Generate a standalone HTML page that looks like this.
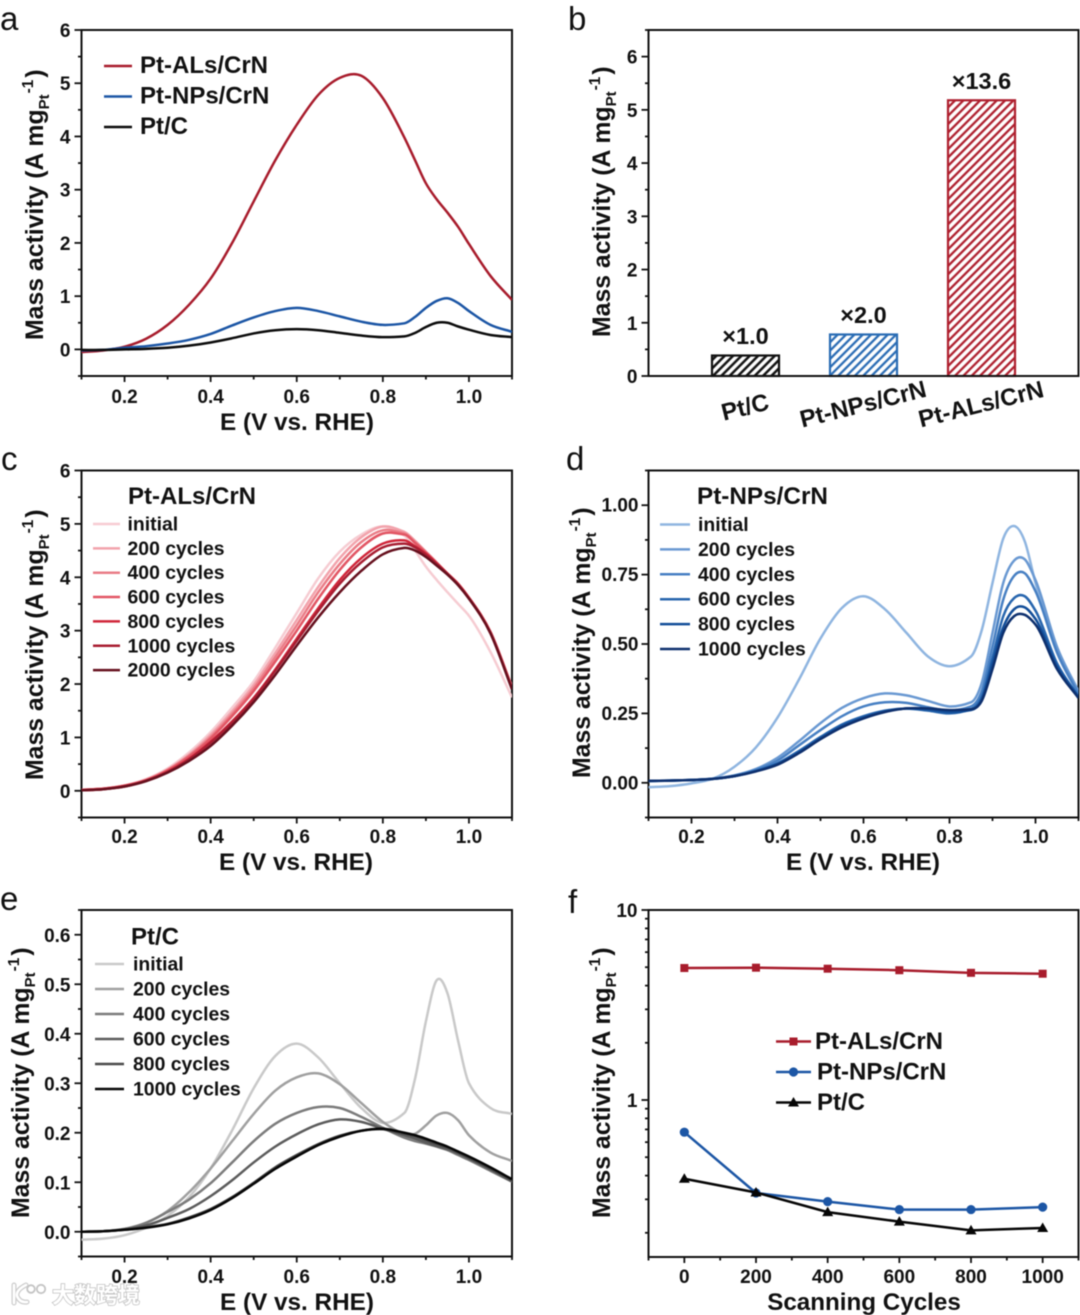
<!DOCTYPE html>
<html lang="en">
<head>
<meta charset="utf-8">
<title>Mass activity of Pt catalysts</title>
<style>
html,body{margin:0;padding:0;background:#fff;width:1080px;height:1315px;overflow:hidden}
svg{display:block;filter:blur(0.5px)}
text{font-family:"Liberation Sans","Noto Sans CJK SC",sans-serif;fill:#111}
</style>
</head>
<body>
<svg id="fig" xmlns="http://www.w3.org/2000/svg" width="1080" height="1315" viewBox="0 0 1080 1315">
  <defs>
    <pattern id="hatch-black" patternUnits="userSpaceOnUse" width="5.9" height="5.9" patternTransform="rotate(45)"><line x1="2.95" y1="0" x2="2.95" y2="5.9" stroke="#111" stroke-width="2.5"/></pattern>
    <pattern id="hatch-blue" patternUnits="userSpaceOnUse" width="5.9" height="5.9" patternTransform="rotate(45)"><line x1="2.95" y1="0" x2="2.95" y2="5.9" stroke="#2a6cb4" stroke-width="2.3"/></pattern>
    <pattern id="hatch-red" patternUnits="userSpaceOnUse" width="5.9" height="5.9" patternTransform="rotate(45)"><line x1="2.95" y1="0" x2="2.95" y2="5.9" stroke="#ae1f2e" stroke-width="2.3"/></pattern>
  </defs>
</svg>
<script>
// ---- shared potential grid (V vs. RHE) ----
const potentials = [0.1,0.15,0.2,0.25,0.3,0.35,0.4,0.45,0.5,0.55,0.6,0.65,0.7,0.75,0.8,0.85,0.875,0.9,0.925,0.95,0.975,1.0,1.05,1.1];
const potentialMajorTicks = [0.2,0.4,0.6,0.8,1.0];
const potentialMinorTicks = [0.1,0.3,0.5,0.7,0.9,1.1];

// ---- panel a ----
const aAls = [-0.05,-0.02,0.05,0.2,0.46,0.84,1.33,2.0,2.78,3.55,4.22,4.78,5.1,5.14,4.72,3.98,3.55,3.12,2.82,2.57,2.3,1.98,1.38,0.93];
const aNps = [-0.02,-0.01,0.03,0.06,0.11,0.18,0.29,0.45,0.6,0.72,0.78,0.72,0.62,0.52,0.46,0.49,0.61,0.78,0.91,0.96,0.87,0.72,0.46,0.33];
const aPtc = [-0.01,-0.01,0,0.01,0.03,0.07,0.13,0.21,0.3,0.36,0.38,0.36,0.31,0.26,0.23,0.245,0.31,0.42,0.5,0.5,0.43,0.37,0.27,0.23];
const aLegend = ["Pt-ALs/CrN","Pt-NPs/CrN","Pt/C"];
const aTicks = [0,1,2,3,4,5,6];
const aMinor = [-0.5,0.5,1.5,2.5,3.5,4.5,5.5];

// ---- panel b ----
const bCategories = ["Pt/C","Pt-NPs/CrN","Pt-ALs/CrN"];
const bValues = [0.385,0.78,5.18];
const bFactors = ["×1.0","×2.0","×13.6"];
const bTicks = [0,1,2,3,4,5,6];
const bMinor = [0.5,1.5,2.5,3.5,4.5,5.5,6.5];

// ---- panel c ----
const cInitial = [0.02,0.04,0.1,0.22,0.42,0.72,1.1,1.56,2.05,2.68,3.33,3.98,4.48,4.8,4.95,4.78,4.5,4.2,3.95,3.72,3.5,3.28,2.6,1.75];
const c200 = [0.02,0.04,0.1,0.21,0.4,0.68,1.05,1.49,1.98,2.58,3.2,3.82,4.36,4.75,4.95,4.85,4.68,4.48,4.28,4.07,3.88,3.62,2.98,1.95];
const c400 = [0.02,0.04,0.1,0.2,0.39,0.66,1.01,1.44,1.92,2.5,3.1,3.72,4.25,4.66,4.88,4.82,4.66,4.47,4.27,4.07,3.88,3.62,2.98,1.95];
const c600 = [0.02,0.04,0.09,0.2,0.38,0.64,0.98,1.4,1.87,2.42,3.0,3.6,4.14,4.56,4.82,4.8,4.64,4.46,4.27,4.07,3.87,3.62,2.97,1.93];
const c800 = [0.01,0.03,0.09,0.19,0.36,0.6,0.92,1.3,1.74,2.27,2.85,3.42,3.95,4.36,4.63,4.69,4.58,4.44,4.26,4.07,3.87,3.61,2.96,1.92];
const c1000 = [0.01,0.03,0.08,0.19,0.35,0.59,0.9,1.28,1.72,2.25,2.81,3.37,3.88,4.28,4.56,4.63,4.56,4.42,4.25,4.06,3.86,3.6,2.95,1.91];
const c2000 = [0.01,0.03,0.08,0.18,0.34,0.56,0.84,1.22,1.66,2.17,2.72,3.25,3.72,4.12,4.43,4.55,4.5,4.38,4.22,4.05,3.85,3.6,2.95,1.9];
const cLegend = ["initial","200 cycles","400 cycles","600 cycles","800 cycles","1000 cycles","2000 cycles"];
const cTicks = [0,1,2,3,4,5,6];
const cMinor = [-0.5,0.5,1.5,2.5,3.5,4.5,5.5];

// ---- panel d ----
const dInitial = [-0.016,-0.012,-0.002,0.015,0.058,0.128,0.235,0.372,0.52,0.63,0.672,0.625,0.54,0.455,0.42,0.455,0.55,0.72,0.88,0.925,0.87,0.72,0.47,0.32];
const d200 = [0.006,0.008,0.01,0.015,0.027,0.05,0.09,0.15,0.215,0.27,0.305,0.322,0.315,0.295,0.275,0.29,0.36,0.54,0.72,0.8,0.805,0.73,0.49,0.33];
const d400 = [0.006,0.008,0.01,0.015,0.026,0.047,0.08,0.135,0.19,0.24,0.275,0.29,0.288,0.272,0.26,0.275,0.33,0.49,0.66,0.745,0.755,0.69,0.47,0.32];
const d600 = [0.007,0.008,0.01,0.014,0.024,0.043,0.07,0.115,0.165,0.21,0.24,0.26,0.267,0.26,0.25,0.265,0.31,0.45,0.6,0.665,0.672,0.62,0.43,0.31];
const d800 = [0.007,0.008,0.01,0.014,0.024,0.042,0.068,0.11,0.16,0.205,0.235,0.257,0.268,0.265,0.255,0.262,0.3,0.43,0.56,0.625,0.632,0.59,0.42,0.31];
const d1000 = [0.007,0.008,0.01,0.014,0.024,0.041,0.065,0.107,0.157,0.2,0.232,0.255,0.268,0.268,0.262,0.265,0.295,0.41,0.54,0.6,0.605,0.57,0.41,0.305];
const dLegend = ["initial","200 cycles","400 cycles","600 cycles","800 cycles","1000 cycles"];
const dTicks = [0,0.25,0.5,0.75,1];
const dTickLabels = ["0.00","0.25","0.50","0.75","1.00"];
const dMinor = [-0.125,0.125,0.375,0.625,0.875,1.125];

// ---- panel e ----
const eInitial = [-0.016,-0.014,-0.007,0.008,0.032,0.07,0.128,0.205,0.29,0.355,0.38,0.352,0.3,0.25,0.22,0.24,0.31,0.425,0.508,0.482,0.385,0.3,0.25,0.238];
const e200 = [0,0.001,0.006,0.018,0.042,0.08,0.128,0.183,0.238,0.285,0.312,0.32,0.298,0.26,0.222,0.197,0.198,0.215,0.235,0.24,0.225,0.195,0.16,0.143];
const e400 = [0,0.001,0.005,0.018,0.04,0.065,0.098,0.14,0.183,0.218,0.24,0.252,0.25,0.232,0.21,0.19,0.183,0.178,0.172,0.165,0.155,0.145,0.123,0.101];
const e600 = [0,0.001,0.005,0.013,0.028,0.046,0.072,0.104,0.14,0.172,0.197,0.217,0.227,0.222,0.208,0.195,0.188,0.18,0.173,0.167,0.158,0.148,0.126,0.102];
const e800 = [0,0.001,0.004,0.009,0.016,0.029,0.046,0.07,0.099,0.13,0.155,0.177,0.194,0.204,0.207,0.198,0.193,0.185,0.177,0.17,0.16,0.149,0.127,0.104];
const e1000 = [0,0.001,0.004,0.008,0.015,0.027,0.044,0.068,0.097,0.127,0.152,0.175,0.192,0.204,0.208,0.2,0.195,0.188,0.18,0.172,0.162,0.152,0.13,0.106];
const eLegend = ["initial","200 cycles","400 cycles","600 cycles","800 cycles","1000 cycles"];
const eTicks = [0,0.1,0.2,0.3,0.4,0.5,0.6];
const eTickLabels = ["0.0","0.1","0.2","0.3","0.4","0.5","0.6"];
const eMinor = [-0.05,0.05,0.15,0.25,0.35,0.45,0.55,0.65];

// ---- panel f ----
const fCycles = [0,200,400,600,800,1000];
const fAls = [4.95,4.97,4.91,4.82,4.67,4.62];
const fNps = [0.677,0.324,0.292,0.265,0.265,0.273];
const fPtc = [0.385,0.326,0.257,0.229,0.206,0.212];
const fLegend = ["Pt-ALs/CrN","Pt-NPs/CrN","Pt/C"];
const fMinorCycles = [-100,100,300,500,700,900,1100];
const fLogTicks = [10,1];
const fLogMinor = [9,8,7,6,5,4,3,2,0.9,0.8,0.7,0.6,0.5,0.4,0.3,0.2];

const NS = "http://www.w3.org/2000/svg";
const fig = document.getElementById("fig");
const INK = "#111";

function make(tag, attrs, name, parent) {
  const el = document.createElementNS(NS, tag);
  for (const k in attrs) el.setAttribute(k, attrs[k]);
  
  
  (parent || fig).appendChild(el);
  return el;
}
function label(str, x, y, size, anchor, name, parent, bold) {
  const t = make("text", {x: x, y: y, "font-size": size, "text-anchor": anchor || "start", "font-weight": bold === false ? 400 : 700}, name, parent);
  t.textContent = str;
  return t;
}
function linear(d0, d1, r0, r1) {
  return function (v) { return r0 + (v - d0) * (r1 - r0) / (d1 - d0); };
}
function log10Scale(d0, d1, r0, r1) {
  return function (v) { return r0 + (Math.log10(v) - Math.log10(d0)) * (r1 - r0) / (Math.log10(d1) - Math.log10(d0)); };
}
function smoothPath(xs, ys) {
  const n = xs.length;
  const m = [];
  for (let i = 0; i < n; i++) {
    const a = Math.max(0, i - 1), b = Math.min(n - 1, i + 1);
    let slope = (ys[b] - ys[a]) / (xs[b] - xs[a]);
    if (i > 0 && i < n - 1) {
      const h0 = xs[i] - xs[i - 1], h1 = xs[i + 1] - xs[i];
      const d0 = (ys[i] - ys[i - 1]) / h0, d1 = (ys[i + 1] - ys[i]) / h1;
      if (Math.abs(h0 - h1) > 1 && d0 * d1 > 0) {
        const w1 = 2 * h1 + h0, w2 = h1 + 2 * h0;
        slope = (w1 + w2) / (w1 / d0 + w2 / d1);
      }
    }
    m.push(slope);
  }
  let d = "M" + xs[0].toFixed(2) + " " + ys[0].toFixed(2);
  for (let i = 0; i < n - 1; i++) {
    const h = (xs[i + 1] - xs[i]) / 3;
    d += "C" + (xs[i] + h).toFixed(2) + " " + (ys[i] + m[i] * h).toFixed(2) + " " +
         (xs[i + 1] - h).toFixed(2) + " " + (ys[i + 1] - m[i + 1] * h).toFixed(2) + " " +
         xs[i + 1].toFixed(2) + " " + ys[i + 1].toFixed(2);
  }
  return d;
}
function frame(g, L, R, T, B, id) {
  make("rect", {x: L, y: T, width: R - L, height: B - T, fill: "none", stroke: INK, "stroke-width": 2}, "plot-frame", g);
  const cp = make("clipPath", {id: id}, "plot-clip", g);
  make("rect", {x: L, y: T, width: R - L, height: B - T}, "plot-clip-rect", cp);
}
function yTick(g, L, y, len) {
  make("line", {x1: L - len, x2: L, y1: y, y2: y, stroke: INK, "stroke-width": 1.8}, "y-tick", g);
}
function xTick(g, B, x, len) {
  make("line", {x1: x, x2: x, y1: B, y2: B + len, stroke: INK, "stroke-width": 1.8}, "x-tick", g);
}
function yTitle(g, x, y) {
  const t = make("text", {transform: "rotate(-90 " + x + " " + y + ")", x: x, y: y, "font-size": 24.8, "font-weight": 700}, "y-axis-title", g);
  const a = make("tspan", {}, "y-title-main", t);
  a.textContent = "Mass activity (A mg";
  const s = make("tspan", {"font-size": 15, dy: 6}, "y-title-subscript", t);
  s.textContent = "Pt";
  const p = make("tspan", {"font-size": 15.5, dy: -16, dx: 1}, "y-title-superscript", t);
  p.textContent = "-1";
  const c = make("tspan", {dy: 10, dx: 2}, "y-title-close", t);
  c.textContent = ")";
}
function potentialAxes(g, x, B, cx, labelY, titleY) {
  potentialMajorTicks.forEach(function (v) {
    xTick(g, B, x(v), 6);
    label(v.toFixed(1), x(v), labelY, 19, "middle", "x-tick-label", g);
  });
  potentialMinorTicks.forEach(function (v) { xTick(g, B, x(v), 3.5); });
  label("E (V vs. RHE)", cx, titleY, 24.3, "middle", "x-axis-title", g);
}
function curve(g, xs, values, xf, yf, color, clip, name, width) {
  make("path", {d: smoothPath(xs.map(xf), values.map(yf)), fill: "none", stroke: color, "stroke-width": width || 2.5, "clip-path": "url(#" + clip + ")", "stroke-linejoin": "round"}, name, g);
}
function panelLetter(str, x, y) {
  label(str, x, y, 33, "start", "panel-label-" + str, fig, false);
}

// ============ Panel a ============
(function () {
  const g = make("g", {}, "panel-a");
  const L = 81.5, R = 512, T = 30, B = 376;
  const x = linear(0.1, 1.1, L, R), y = linear(-0.5, 6, B, T);
  aTicks.forEach(function (v) { yTick(g, L, y(v), 7); label(String(v), L - 11, y(v) + 7, 19, "end", "y-tick-label", g); });
  aMinor.forEach(function (v) { yTick(g, L, y(v), 3.5); });
  frame(g, L, R, T, B, "clip-a");
  potentialAxes(g, x, B, 297, 403, 430);
  yTitle(g, 43, 340);
  const colors = ["#a81c2c", "#1c56a5", "#0c0c0c"];
  [aAls, aNps, aPtc].forEach(function (s, i) {
    curve(g, potentials, s, x, y, colors[i], "clip-a", "curve-" + aLegend[i].toLowerCase().replace(/[^a-z]+/g, "-"));
  });
  aLegend.forEach(function (t, i) {
    const ly = 66 + i * 30.5;
    make("line", {x1: 104, x2: 132, y1: ly, y2: ly, stroke: colors[i], "stroke-width": 2.5}, "legend-swatch", g);
    label(t, 140, ly + 7, 24, "start", "legend-entry", g);
  });
  panelLetter("a", 0, 30);
})();

// ============ Panel b ============
(function () {
  const g = make("g", {}, "panel-b");
  const L = 648.5, R = 1078.5, T = 30, B = 376;
  const y = linear(0, 6.5, B, T);
  const band = function (i) { return 745.5 + 118 * i; };
  const barW = 67;
  const fills = ["hatch-black", "hatch-blue", "hatch-red"];
  const strokes = ["#111111", "#2a6cb4", "#ae1f2e"];
  bValues.forEach(function (v, i) {
    make("rect", {x: band(i) - barW / 2, y: y(v), width: barW, height: B - y(v), fill: "url(#" + fills[i] + ")", stroke: strokes[i], "stroke-width": 2.2}, "bar-" + bCategories[i].toLowerCase().replace(/[^a-z]+/g, "-"), g);
    label(bFactors[i], band(i), y(v) - 11.5, 23.5, "middle", "bar-factor-label", g);
    const cy = 415 - (i === 0 ? 0 : 3);
    const cx = band(i) + 1.5;
    const t = label(bCategories[i], cx, cy, 24, "middle", "x-category-label", g);
    t.setAttribute("transform", "rotate(-14 " + cx + " " + cy + ")");
  });
  bTicks.forEach(function (v) { yTick(g, L, y(v), 7); label(String(v), L - 11, y(v) + 7, 19, "end", "y-tick-label", g); });
  bMinor.forEach(function (v) { yTick(g, L, y(v), 3.5); });
  frame(g, L, R, T, B, "clip-b");
  yTitle(g, 610, 337);
  panelLetter("b", 568, 30);
})();

// ============ Panel c ============
(function () {
  const g = make("g", {}, "panel-c");
  const L = 81.5, R = 512, T = 470.5, B = 817.5;
  const x = linear(0.1, 1.1, L, R), y = linear(-0.5, 6, B, T);
  cTicks.forEach(function (v) { yTick(g, L, y(v), 7); label(String(v), L - 11, y(v) + 7, 19, "end", "y-tick-label", g); });
  cMinor.forEach(function (v) { yTick(g, L, y(v), 3.5); });
  frame(g, L, R, T, B, "clip-c");
  potentialAxes(g, x, B, 296, 843, 870);
  yTitle(g, 43, 780);
  const colors = ["#f6ccd2", "#f2a3ac", "#ea7d87", "#e25664", "#d0263a", "#a81e32", "#66101e"];
  [cInitial, c200, c400, c600, c800, c1000, c2000].forEach(function (s, i) {
    curve(g, potentials, s, x, y, colors[i], "clip-c", "curve-" + cLegend[i].replace(/ /g, "-"));
  });
  label("Pt-ALs/CrN", 128, 504, 24, "start", "legend-title", g);
  cLegend.forEach(function (t, i) {
    const ly = 524 + i * 24.35;
    make("line", {x1: 93, x2: 120, y1: ly, y2: ly, stroke: colors[i], "stroke-width": 2.5}, "legend-swatch", g);
    label(t, 127.5, ly + 6.5, 19.4, "start", "legend-entry", g);
  });
  panelLetter("c", 1, 470);
})();

// ============ Panel d ============
(function () {
  const g = make("g", {}, "panel-d");
  const L = 648.5, R = 1078.5, T = 470.5, B = 817.5;
  const x = linear(0.1, 1.1, L, R), y = linear(-0.125, 1.125, B, T);
  dTicks.forEach(function (v, i) { yTick(g, L, y(v), 7); label(dTickLabels[i], L - 10, y(v) + 6.5, 19, "end", "y-tick-label", g); });
  dMinor.forEach(function (v) { yTick(g, L, y(v), 3.5); });
  frame(g, L, R, T, B, "clip-d");
  potentialAxes(g, x, B, 863, 843, 870);
  yTitle(g, 590, 778);
  const colors = ["#8fb5e0", "#6a99d2", "#4880c3", "#2866ae", "#134e99", "#0e306e"];
  [dInitial, d200, d400, d600, d800, d1000].forEach(function (s, i) {
    curve(g, potentials, s, x, y, colors[i], "clip-d", "curve-" + dLegend[i].replace(/ /g, "-"));
  });
  label("Pt-NPs/CrN", 697, 504, 24.3, "start", "legend-title", g);
  dLegend.forEach(function (t, i) {
    const ly = 524.5 + i * 24.9;
    make("line", {x1: 660, x2: 690, y1: ly, y2: ly, stroke: colors[i], "stroke-width": 2.5}, "legend-swatch", g);
    label(t, 698, ly + 6.5, 19.4, "start", "legend-entry", g);
  });
  panelLetter("d", 566, 470);
})();

// ============ Panel e ============
(function () {
  const g = make("g", {}, "panel-e");
  const L = 81.5, R = 512, T = 910, B = 1256.5;
  const x = linear(0.1, 1.1, L, R), y = linear(-0.05, 0.65, B, T);
  eTicks.forEach(function (v, i) { yTick(g, L, y(v), 7); label(eTickLabels[i], L - 11, y(v) + 7, 19, "end", "y-tick-label", g); });
  eMinor.forEach(function (v) { yTick(g, L, y(v), 3.5); });
  frame(g, L, R, T, B, "clip-e");
  potentialAxes(g, x, B, 297, 1283, 1310);
  yTitle(g, 29, 1218);
  const colors = ["#c9c9c9", "#a0a0a0", "#7c7c7c", "#5c5c5c", "#4a4a4a", "#060606"];
  [eInitial, e200, e400, e600, e800, e1000].forEach(function (s, i) {
    curve(g, potentials, s, x, y, colors[i], "clip-e", "curve-" + eLegend[i].replace(/ /g, "-"));
  });
  label("Pt/C", 131, 944.5, 24, "start", "legend-title", g);
  eLegend.forEach(function (t, i) {
    const ly = 964 + i * 25;
    make("line", {x1: 95, x2: 124, y1: ly, y2: ly, stroke: colors[i], "stroke-width": 2.5}, "legend-swatch", g);
    label(t, 133, ly + 6.5, 19.4, "start", "legend-entry", g);
  });
  panelLetter("e", 0, 910);
})();

// ============ Panel f ============
(function () {
  const g = make("g", {}, "panel-f");
  const L = 648.5, R = 1078.5, T = 910, B = 1257;
  const x = linear(-100, 1100, L, R);
  const y = log10Scale(10, 1, T, 1100);
  fLogTicks.forEach(function (v) { yTick(g, L, y(v), 7); label(String(v), L - 11, y(v) + 7, 19, "end", "y-tick-label", g); });
  fLogMinor.forEach(function (v) { yTick(g, L, y(v), 3.5); });
  fCycles.forEach(function (v) { xTick(g, B, x(v), 6); label(String(v), x(v), 1283, 19, "middle", "x-tick-label", g); });
  fMinorCycles.forEach(function (v) { xTick(g, B, x(v), 3.5); });
  frame(g, L, R, T, B, "clip-f");
  label("Scanning Cycles", 864, 1310, 24.2, "middle", "x-axis-title", g);
  yTitle(g, 610, 1218);

  const colors = ["#a81c2c", "#1c56a5", "#060606"];
  function marker(kind, cx, cy, color, parent) {
    if (kind === 0) make("rect", {x: cx - 4, y: cy - 4, width: 8, height: 8, fill: color}, "square-marker", parent);
    if (kind === 1) make("circle", {cx: cx, cy: cy, r: 4.6, fill: color}, "circle-marker", parent);
    if (kind === 2) make("polygon", {points: [cx, cy - 5.5, cx + 5.5, cy + 4, cx - 5.5, cy + 4].join(" "), fill: color}, "triangle-marker", parent);
  }
  [fAls, fNps, fPtc].forEach(function (s, i) {
    const d = s.map(function (v, j) { return (j ? "L" : "M") + x(fCycles[j]).toFixed(2) + " " + y(v).toFixed(2); }).join("");
    make("path", {d: d, fill: "none", stroke: colors[i], "stroke-width": 2.5}, "line-" + fLegend[i].toLowerCase().replace(/[^a-z]+/g, "-"), g);
    s.forEach(function (v, j) { marker(i, x(fCycles[j]), y(v), colors[i], g); });
  });
  fLegend.forEach(function (t, i) {
    const ly = 1041.5 + i * 30.5;
    make("line", {x1: 776, x2: 811, y1: ly, y2: ly, stroke: colors[i], "stroke-width": 2.5}, "legend-swatch", g);
    marker(i, 793.5, ly, colors[i], g);
    label(t, i === 0 ? 815 : 817, ly + 7.5, 24, "start", "legend-entry", g);
  });
  panelLetter("f", 568, 913);
})();

// ============ Watermark ============
(function () {
  const g = make("g", {}, "watermark");
  const logo = "M14 1285 L14 1303 M26 1285 Q16 1290 17 1296 Q20 1303 27 1302";
  make("path", {d: logo, fill: "none", stroke: "#cccccc", "stroke-width": 5, "stroke-linecap": "round"}, "watermark-logo-outline", g);
  make("path", {d: logo, fill: "none", stroke: "#ffffff", "stroke-width": 2.6, "stroke-linecap": "round"}, "watermark-logo-mark", g);
  make("circle", {cx: 31, cy: 1289, r: 3.8, fill: "none", stroke: "#c4c4c4", "stroke-width": 1.8}, "watermark-logo-dot", g);
  make("circle", {cx: 41, cy: 1289, r: 4.2, fill: "none", stroke: "#c4c4c4", "stroke-width": 1.8}, "watermark-logo-dot", g);
  const t = label("大数跨境", 52, 1303, 22, "start", "watermark-text", g);
  t.style.fill = "#ffffff";
  t.setAttribute("stroke", "#c0c0c0");
  t.setAttribute("stroke-width", "1.5");
  t.setAttribute("paint-order", "stroke");
})();
</script>
</body>
</html>
